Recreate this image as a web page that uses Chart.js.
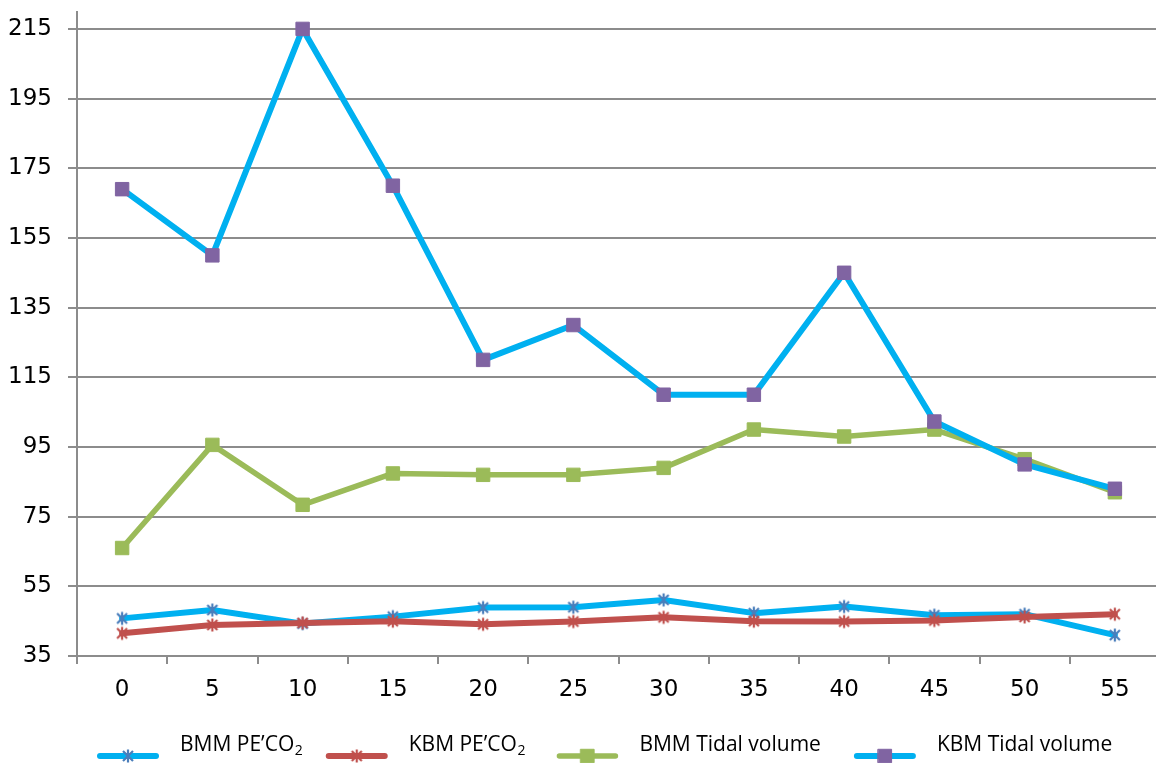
<!DOCTYPE html>
<html>
<head>
<meta charset="utf-8">
<title>PE'CO2 and tidal volume over time</title>
<script src="https://cdn.jsdelivr.net/npm/chart.js@4.4.1/dist/chart.umd.min.js"></script>
<style>
  html, body { margin: 0; padding: 0; background: #ffffff; overflow: hidden; }
  #wrap { width: 1156px; height: 763px; overflow: hidden; }
  #chart { display: block; }
</style>
</head>
<body>
<!-- the plot area runs a few pixels past the right edge of the frame -->
<div id="wrap"><canvas id="chart" width="1160" height="763"></canvas></div>
<script>
// Time points (minutes)
const minutes = ['0', '5', '10', '15', '20', '25', '30', '35', '40', '45', '50', '55'];

// Series values
const bmmPeco2 = [45.8, 48.2, 44.3, 46.3, 48.9, 49.0, 51.1, 47.3, 49.2, 46.7, 47.0, 41.0];
const kbmPeco2 = [41.5, 43.9, 44.5, 45.0, 44.1, 44.9, 46.1, 45.0, 44.9, 45.2, 46.2, 47.0];
const bmmTidal = [66, 95.6, 78.4, 87.4, 87, 87, 89, 100, 98, 100, 91.5, 82];
const kbmTidal = [169, 150, 215, 170, 120, 130, 110, 110, 145, 102.3, 90, 83];

// Series names
const seriesNames = ['BMM PE\u2019CO\u2082', 'KBM PE\u2019CO\u2082', 'BMM Tidal volume', 'KBM Tidal volume'];

// Value axis tick labels
const yTicks = [35, 55, 75, 95, 115, 135, 155, 175, 195, 215];

const GRID = '#8c8c8c';
const TICK_FONT = { family: 'DejaVu Sans', size: 23 };

// Asterisk marker ("X" with a vertical stroke), drawn once per colour
function asterisk(color) {
  const c = document.createElement('canvas');
  c.width = 16; c.height = 16;
  const g = c.getContext('2d');
  g.strokeStyle = color;
  g.lineWidth = 2.2;
  g.lineCap = 'butt';
  g.beginPath();
  g.moveTo(8, 1.5); g.lineTo(8, 14.5);
  g.moveTo(3, 3); g.lineTo(13, 13);
  g.moveTo(13, 3); g.lineTo(3, 13);
  g.stroke();
  return c;
}

// Legend below the plot: line sample with marker, then the name (with a real subscript 2)
const bottomLegend = {
  id: 'bottomLegend',
  afterDraw(chart) {
    const ctx = chart.ctx;
    const font = '21px "Open Sans"';
    const subFont = '14px "Open Sans"';
    const lineY = 756, textY = 751;
    const sampleW = 56, textGap = 24;
    const itemGaps = [26, 34, 36];
    let x = 100;
    ctx.save();
    chart.data.datasets.forEach((ds, i) => {
      // line sample
      ctx.strokeStyle = ds.borderColor;
      ctx.lineWidth = ds.borderWidth;
      ctx.lineCap = 'round';
      ctx.beginPath();
      ctx.moveTo(x, lineY);
      ctx.lineTo(x + sampleW, lineY);
      ctx.stroke();
      // marker
      const cx = x + sampleW / 2;
      if (typeof ds.pointStyle === 'string') {
        ctx.fillStyle = ds.pointBackgroundColor;
        ctx.strokeStyle = ds.pointBorderColor;
        ctx.lineWidth = ds.pointBorderWidth || 0;
        const s = Math.SQRT1_2 * ds.pointRadius;
        ctx.beginPath();
        ctx.rect(cx - s, lineY - s, 2 * s, 2 * s);
        ctx.fill();
        if (ctx.lineWidth) ctx.stroke();
      } else {
        const img = ds.pointStyle;
        ctx.drawImage(img, cx - img.width / 2, lineY - img.height / 2);
      }
      // label
      let tx = x + sampleW + textGap;
      ctx.fillStyle = '#000000';
      ctx.textBaseline = 'alphabetic';
      ctx.textAlign = 'left';
      const parts = ds.label.split('\u2082');
      ctx.font = font;
      ctx.fillText(parts[0], tx, textY);
      tx += ctx.measureText(parts[0]).width;
      if (parts.length > 1) {
        ctx.font = subFont;
        ctx.fillText('2', tx + 0.5, textY + 4);
        tx += ctx.measureText('2').width + 0.5;
        ctx.font = font;
        if (parts[1]) { ctx.fillText(parts[1], tx, textY); tx += ctx.measureText(parts[1]).width; }
      }
      x = tx + (itemGaps[i] || 30);
    });
    ctx.restore();
  }
};

const starBlue = asterisk('#4a7ebb');
const starRed = asterisk('#c0504d');

new Chart(document.getElementById('chart'), {
  type: 'line',
  data: {
    labels: minutes,
    datasets: [
      {
        label: seriesNames[0], data: bmmPeco2, order: 3,
        borderColor: '#00b0f0', borderWidth: 6,
        pointStyle: starBlue, pointRadius: 8,
        pointBackgroundColor: '#4a7ebb', pointBorderColor: '#4a7ebb'
      },
      {
        label: seriesNames[1], data: kbmPeco2, order: 2,
        borderColor: '#c0504d', borderWidth: 6,
        pointStyle: starRed, pointRadius: 8,
        pointBackgroundColor: '#c0504d', pointBorderColor: '#c0504d'
      },
      {
        label: seriesNames[2], data: bmmTidal, order: 1,
        borderColor: '#9bbb59', borderWidth: 5.5,
        pointStyle: 'rect', pointRadius: 9.5, pointBorderWidth: 1,
        pointBackgroundColor: '#9bbb59', pointBorderColor: '#9bbb59'
      },
      {
        label: seriesNames[3], data: kbmTidal, order: 0,
        borderColor: '#00b0f0', borderWidth: 6,
        pointStyle: 'rect', pointRadius: 9.5, pointBorderWidth: 1,
        pointBackgroundColor: '#8064a2', pointBorderColor: '#8064a2'
      }
    ]
  },
  options: {
    responsive: false,
    animation: false,
    devicePixelRatio: 1,
    layout: { autoPadding: false, padding: { left: 0, top: 11.5, right: 0, bottom: 57 } },
    plugins: { legend: { display: false }, tooltip: { enabled: false } },
    elements: { line: { tension: 0, borderJoinStyle: 'round', borderCapStyle: 'round' } },
    scales: {
      x: {
        type: 'category',
        offset: true,
        grid: { offset: true, drawOnChartArea: false, drawTicks: true, tickLength: 8, color: GRID, lineWidth: 2 },
        border: { display: true, color: GRID, width: 2 },
        ticks: { color: '#000000', font: TICK_FONT, padding: 12, maxRotation: 0, autoSkip: false },
        afterFit(scale) { scale.height = 50; scale.paddingLeft = 0; scale.paddingRight = 0; }
      },
      y: {
        min: 35, max: 220,
        grid: { drawTicks: true, tickLength: 9, color: GRID, lineWidth: 2 },
        border: { display: true, color: GRID, width: 2 },
        ticks: { color: '#000000', font: TICK_FONT, padding: 16 },
        afterBuildTicks(scale) { scale.ticks = yTicks.map(v => ({ value: v })); },
        afterFit(scale) { scale.width = 77; scale.paddingTop = 0; scale.paddingBottom = 0; }
      }
    }
  },
  plugins: [bottomLegend]
});
</script>
</body>
</html>
